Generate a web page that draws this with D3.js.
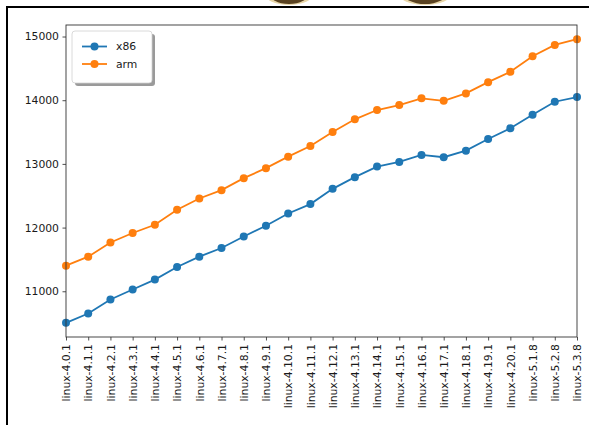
<!DOCTYPE html>
<html>
<head>
<meta charset="utf-8">
<script src="https://cdn.jsdelivr.net/npm/d3@7"></script>
<style>
  body { margin: 0; background: #fff; }
  svg { display: block; font-family: "DejaVu Sans", sans-serif; }
</style>
</head>
<body>
<div id="chart"></div>
<script>
// kernel versions on the x axis
const versions = [
    'linux-4.0.1', 'linux-4.1.1', 'linux-4.2.1', 'linux-4.3.1', 'linux-4.4.1',
    'linux-4.5.1', 'linux-4.6.1', 'linux-4.7.1', 'linux-4.8.1', 'linux-4.9.1',
    'linux-4.10.1', 'linux-4.11.1', 'linux-4.12.1', 'linux-4.13.1', 'linux-4.14.1',
    'linux-4.15.1', 'linux-4.16.1', 'linux-4.17.1', 'linux-4.18.1', 'linux-4.19.1',
    'linux-4.20.1', 'linux-5.1.8', 'linux-5.2.8', 'linux-5.3.8'
];

// values
const x86 = [
    10505, 10651, 10870, 11027, 11183, 11382, 11543, 11680, 11861, 12029,
    12222, 12369, 12608, 12792, 12958, 13031, 13141, 13105, 13208, 13392,
    13559, 13772, 13976, 14049
];
const arm = [
    11402, 11543, 11767, 11915, 12045, 12280, 12457, 12588, 12776, 12933,
    13114, 13282, 13501, 13700, 13846, 13924, 14029, 13991, 14107, 14284,
    14446, 14691, 14868, 14958
];
const yTicks = [11000, 12000, 13000, 14000, 15000];

const series = [
    { name: 'x86', values: x86, color: '#1f77b4' },
    { name: 'arm', values: arm, color: '#ff7f0e' }
];

const width = 589, height = 425;
const plot = { left: 66, right: 577, top: 25, bottom: 337 };

const svg = d3.select('#chart').append('svg')
    .attr('width', width)
    .attr('height', height);

// bits of a picture cut off at the top edge
const deco = svg.append('g');
[{ cx: 289, rx: 20 }, { cx: 425, rx: 22 }].forEach(d => {
    deco.append('ellipse')
        .attr('cx', d.cx).attr('cy', -7)
        .attr('rx', d.rx + 5).attr('ry', 12)
        .attr('fill', '#e8d6a8');
    deco.append('ellipse')
        .attr('cx', d.cx).attr('cy', -7)
        .attr('rx', d.rx).attr('ry', 11)
        .attr('fill', '#5a4322');
});

// outer black frame (top and left)
svg.append('path')
    .attr('d', `M7,${height} V7 H${width}`)
    .attr('fill', 'none')
    .attr('stroke', '#000')
    .attr('stroke-width', 2);

// Scales
const x = d3.scalePoint()
    .domain(versions)
    .range([plot.left, plot.right]);

const y = d3.scaleLinear()
    .domain([10282, 15181])
    .range([plot.bottom, plot.top]);

// Axes
const yAxis = svg.append('g')
    .attr('transform', `translate(${plot.left},0)`)
    .call(d3.axisLeft(y).tickValues(yTicks).tickFormat(d3.format('d'))
        .tickSize(3.5).tickPadding(3.5));

const xAxis = svg.append('g')
    .attr('transform', `translate(0,${plot.bottom})`)
    .call(d3.axisBottom(x).tickSize(3.5).tickPadding(3.5));

[yAxis, xAxis].forEach(g => {
    g.select('.domain').remove();
    g.selectAll('line').attr('stroke', '#222').attr('stroke-width', 0.8);
    g.selectAll('text')
        .attr('fill', '#1a1a1a')
        .style('font-size', '10.8px')
        .style('font-family', '"DejaVu Sans", sans-serif');
});

xAxis.selectAll('text')
    .attr('transform', 'rotate(-90)')
    .attr('text-anchor', 'end')
    .attr('x', -7)
    .attr('y', 0)
    .attr('dy', '0.35em');

// Lines and markers
const line = d3.line()
    .x((d, i) => x(versions[i]))
    .y(d => y(d));

series.forEach(s => {
    const g = svg.append('g');
    g.append('path')
        .datum(s.values)
        .attr('fill', 'none')
        .attr('stroke', s.color)
        .attr('stroke-width', 1.8)
        .attr('d', line);
    g.selectAll('circle')
        .data(s.values)
        .enter().append('circle')
        .attr('cx', (d, i) => x(versions[i]))
        .attr('cy', d => y(d))
        .attr('r', 4)
        .attr('fill', s.color);
});

// plot frame
svg.append('rect')
    .attr('x', plot.left).attr('y', plot.top)
    .attr('width', plot.right - plot.left)
    .attr('height', plot.bottom - plot.top)
    .attr('fill', 'none')
    .attr('stroke', '#333')
    .attr('stroke-width', 0.9);

// Legend with shadow
const legend = svg.append('g').attr('transform', 'translate(72,31)');
legend.append('rect')
    .attr('x', 3).attr('y', 3)
    .attr('width', 80).attr('height', 52)
    .attr('rx', 3)
    .attr('fill', '#9a9a9a');
legend.append('rect')
    .attr('width', 80).attr('height', 52)
    .attr('rx', 3)
    .attr('fill', '#fff')
    .attr('stroke', '#d0d0d0')
    .attr('stroke-width', 0.8);

series.forEach((s, i) => {
    const ly = 15.5 + i * 17.5;
    legend.append('line')
        .attr('x1', 10).attr('x2', 35)
        .attr('y1', ly).attr('y2', ly)
        .attr('stroke', s.color)
        .attr('stroke-width', 1.8);
    legend.append('circle')
        .attr('cx', 22.5).attr('cy', ly).attr('r', 4)
        .attr('fill', s.color);
    legend.append('text')
        .attr('x', 44).attr('y', ly)
        .attr('dy', '0.35em')
        .attr('fill', '#1a1a1a')
        .style('font-size', '10.8px')
        .text(s.name);
});
</script>
</body>
</html>
